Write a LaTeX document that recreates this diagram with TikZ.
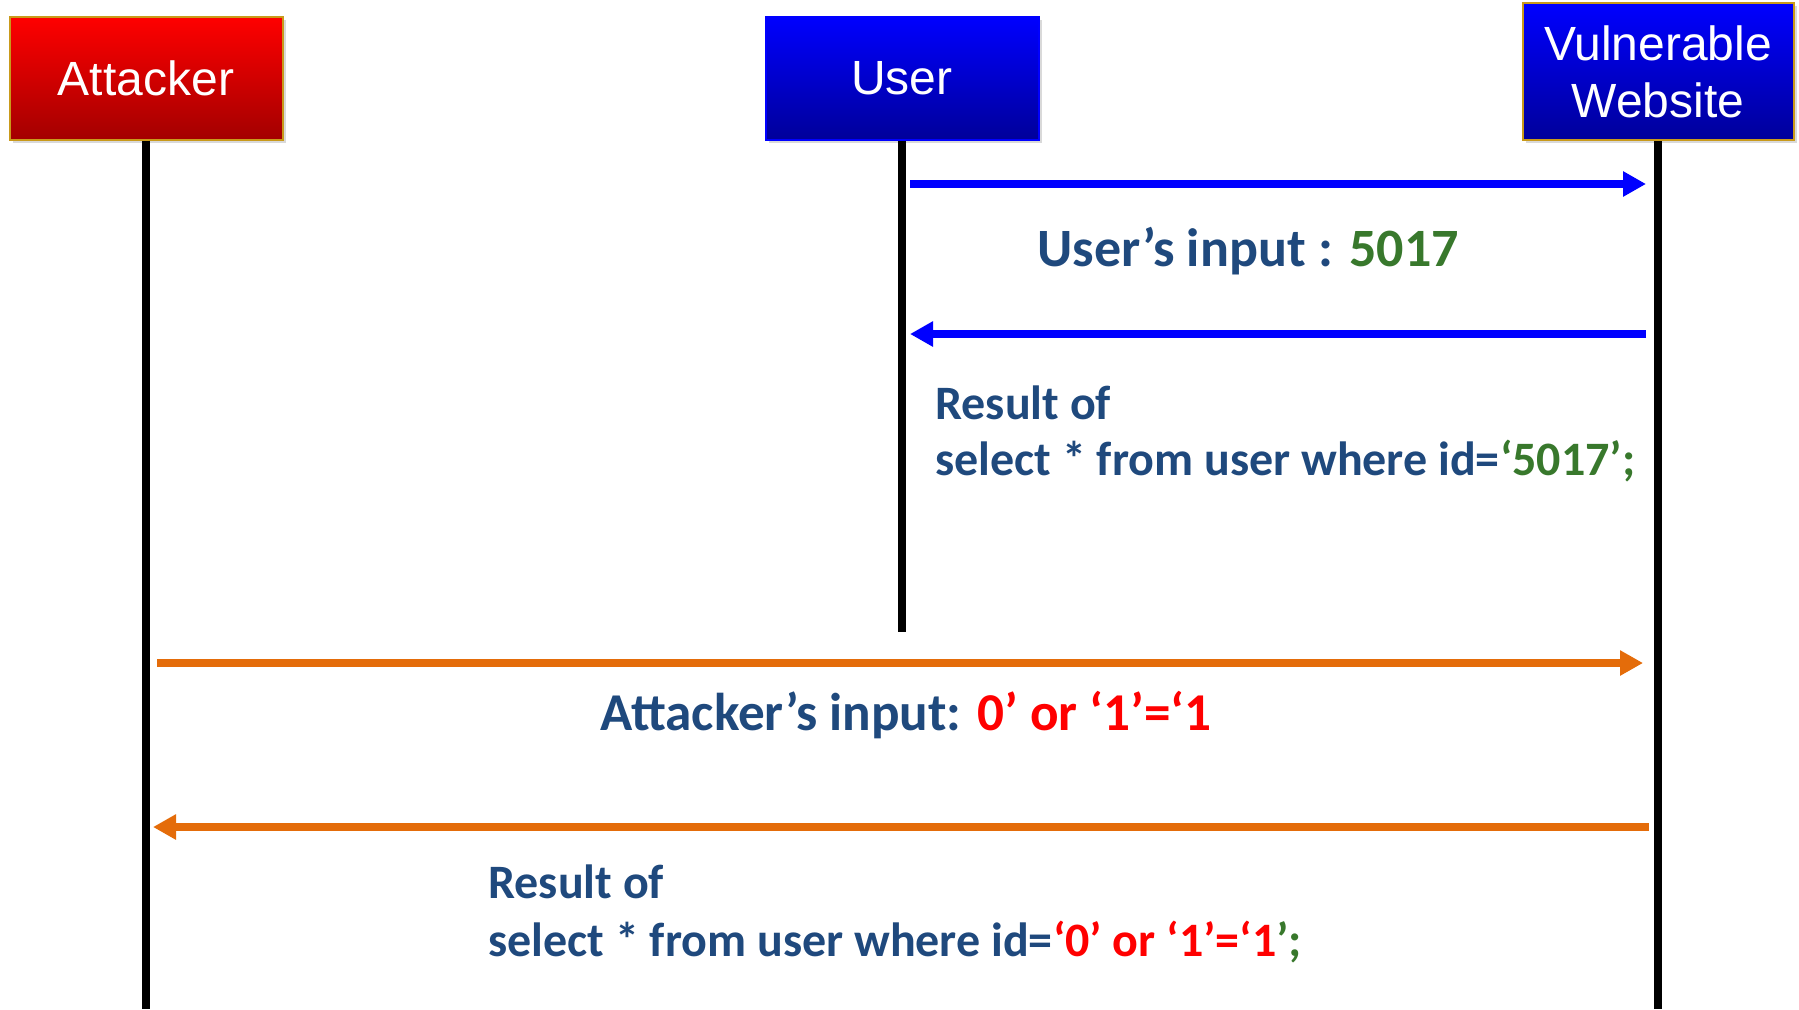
\documentclass[tikz,border=0pt]{standalone}
\usepackage{fontspec}
\setmainfont{Liberation Sans}
\newfontfamily\calfont{Carlito}
\usetikzlibrary{arrows.meta,shadows}
\definecolor{txtblue}{HTML}{1F497D}
\definecolor{txtgreen}{HTML}{38782C}
\definecolor{arrorange}{HTML}{E46C0A}
\definecolor{arrblue}{HTML}{0000FF}
\definecolor{gold}{HTML}{C99A1A}
\definecolor{boxredtop}{HTML}{FF0000}
\definecolor{boxredbot}{HTML}{A30000}
\definecolor{boxbluetop}{HTML}{0000FF}
\definecolor{boxbluebot}{HTML}{00009A}
\tikzset{
  actor/.style={rectangle, minimum width=136.5pt, minimum height=61.5pt, line width=1pt,
    text=white, font=\fontsize{24}{28.5}\selectfont, align=center,
    drop shadow={shadow xshift=1.5pt, shadow yshift=-1.5pt, opacity=0.3}},
  redactor/.style={actor, top color=boxredtop, bottom color=boxredbot, draw=gold},
  blueactor/.style={actor, top color=boxbluetop, bottom color=boxbluebot, draw=gold},
  lifeline/.style={line width=4.3pt, black},
  msgblue/.style={line width=3.6pt, arrblue, -{Triangle[length=11.5pt,width=12pt]}},
  msgorange/.style={line width=3.6pt, arrorange, -{Triangle[length=11.5pt,width=12pt]}},
  label/.style={inner sep=0pt, text=txtblue, font=\calfont\bfseries\fontsize{24}{28}\selectfont},
  biglabel/.style={inner sep=0pt, text=txtblue, font=\calfont\bfseries\fontsize{27}{32}\selectfont},
}
\begin{document}
\begin{tikzpicture}[x=0.5pt, y=-0.5pt]
\useasboundingbox (0,0) rectangle (1799,1009);
% actors
\node[redactor] (att) at (146,78) {Attacker};
\node[blueactor, draw=arrblue] (usr) at (902,78) {User};
\node[blueactor, minimum width=135.5pt, minimum height=68.5pt] (web) at (1658,71.5) {Vulnerable\\Website};
% lifeline ends
\coordinate (attend) at (146,1009);
\coordinate (usrend) at (902,632);
\coordinate (webend) at (1658,1009);
\draw[lifeline] (att.south) -- (attend);
\draw[lifeline] (usr.south) -- (usrend);
\draw[lifeline] (web.south) -- (webend);
% message end points
\coordinate (m1a) at (910,184);  \coordinate (m1b) at (1646,184);
\coordinate (m2a) at (1646,334); \coordinate (m2b) at (910,334);
\coordinate (m3a) at (157,663);  \coordinate (m3b) at (1643,663);
\coordinate (m4a) at (1649,827); \coordinate (m4b) at (153,827);
\draw[msgblue] (m1a) -- (m1b);
\draw[msgblue] (m2a) -- (m2b);
\draw[msgorange] (m3a) -- (m3b);
\draw[msgorange] (m4a) -- (m4b);
% labels
\node[biglabel, anchor=base] (uin) at (1248,266) {User’s input : \textcolor{txtgreen}{5017}};
\node[label, anchor=base west] (r1a) at (935,419) {Result of};
\node[label, anchor=base west] (r1b) at (935,475) {select * from user where id=\textcolor{txtgreen}{‘5017’;}};
\node[biglabel, anchor=base, font=\calfont\bfseries\fontsize{26.6}{32}\selectfont] (ain) at (906,730) {Attacker’s input: \textcolor{red}{0’ or ‘1’=‘1}};
\node[label, anchor=base west] (r2a) at (488,898) {Result of};
\node[label, anchor=base west] (r2b) at (488,956) {select * from user where id=\textcolor{red}{‘0’ or ‘1’=‘1}\textcolor{txtgreen}{’;}};
\end{tikzpicture}
\end{document}
